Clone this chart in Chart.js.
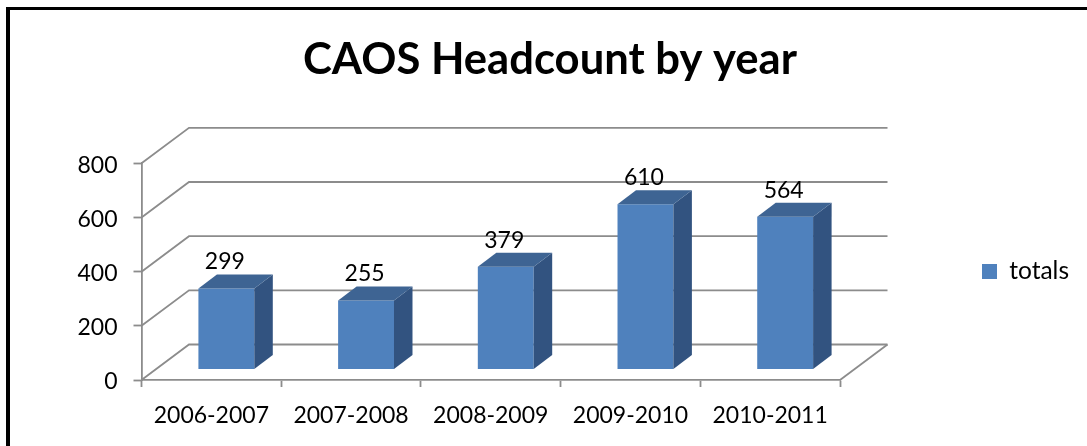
<!DOCTYPE html>
<html>
<head>
<meta charset="utf-8">
<title>CAOS Headcount by year</title>
<script src="https://cdn.jsdelivr.net/npm/chart.js@4/dist/chart.umd.min.js"></script>
<style>
  html, body { margin: 0; padding: 0; background: #fff; overflow: hidden; }
  #wrap { position: relative; width: 1087px; height: 446px; }
  #frame { position: absolute; left: 6px; top: 7px; right: -10px; bottom: -10px;
           border-left: 4px solid #000; border-top: 3px solid #000; }
  canvas { position: absolute; left: 0; top: 0; }
</style>
</head>
<body>
<div id="wrap">
  <canvas id="headcount" width="1087" height="446"></canvas>
  <div id="frame"></div>
</div>
<script>
const years = ['2006-2007', '2007-2008', '2008-2009', '2009-2010', '2010-2011'];
const totals = [299, 255, 379, 610, 564];
const yTicks = [0, 200, 400, 600, 800];

const FONT = 'Lato, Carlito, sans-serif';
const GREY = '#8c8c8c';
const FRONT = '#4f81bd';
const SIDE = '#325380';
const TOP = '#3e6493';

// depth of the box behind the axes, and of each bar inside it
const WALL_DX = 47.5, WALL_DY = -35.5;
const BAR_SHIFT_X = 15, BAR_SHIFT_Y = -10.5;
const BAR_DX = 18.5, BAR_DY = -14;

// back wall, floor and the slanted left side of the grid
const wallPlugin = {
  id: 'wall',
  afterLayout(chart) {
    // keep the legend level with the middle of the plot, off to the right
    const legend = chart.legend;
    legend.top += 36;
    legend.bottom += 36;
    legend.left += 13;
    legend.right += 13;
  },
  beforeDatasetsDraw(chart) {
    const { ctx, chartArea: a, scales: { y } } = chart;
    ctx.save();
    ctx.strokeStyle = GREY;
    ctx.lineWidth = 1.8;
    yTicks.forEach(v => {
      const py = y.getPixelForValue(v);
      ctx.beginPath();
      ctx.moveTo(a.left, py);
      ctx.lineTo(a.left + WALL_DX, py + WALL_DY);
      ctx.lineTo(a.right + WALL_DX, py + WALL_DY);
      ctx.stroke();
    });
    ctx.beginPath();
    ctx.moveTo(a.right, a.bottom);
    ctx.lineTo(a.right + WALL_DX, a.bottom + WALL_DY);
    ctx.stroke();
    ctx.restore();
  }
};

// the library draws the front faces, pushed back into the box;
// side and top faces plus the value labels are added afterwards
const boxPlugin = {
  id: 'box3d',
  beforeDatasetDraw(chart) {
    chart.ctx.save();
    chart.ctx.translate(BAR_SHIFT_X, BAR_SHIFT_Y);
  },
  afterDatasetDraw(chart, args) {
    const ctx = chart.ctx;
    args.meta.data.forEach(bar => {
      const l = bar.x - bar.width / 2, r = bar.x + bar.width / 2;
      ctx.fillStyle = SIDE;
      ctx.beginPath();
      ctx.moveTo(r, bar.y);
      ctx.lineTo(r + BAR_DX, bar.y + BAR_DY);
      ctx.lineTo(r + BAR_DX, bar.base + BAR_DY);
      ctx.lineTo(r, bar.base);
      ctx.closePath();
      ctx.fill();
      ctx.fillStyle = TOP;
      ctx.beginPath();
      ctx.moveTo(l, bar.y);
      ctx.lineTo(l + BAR_DX, bar.y + BAR_DY);
      ctx.lineTo(r + BAR_DX, bar.y + BAR_DY);
      ctx.lineTo(r, bar.y);
      ctx.closePath();
      ctx.fill();
    });
    ctx.restore();
    ctx.save();
    ctx.fillStyle = '#000';
    ctx.font = '23px ' + FONT;
    ctx.textAlign = 'center';
    ctx.textBaseline = 'middle';
    args.meta.data.forEach((bar, i) => {
      ctx.fillText(String(totals[i]), bar.x + BAR_SHIFT_X - 1.5, bar.y + BAR_SHIFT_Y - 26.5);
    });
    ctx.restore();
  }
};

new Chart(document.getElementById('headcount'), {
  type: 'bar',
  data: {
    labels: years,
    datasets: [{
      label: 'totals',
      data: totals,
      backgroundColor: FRONT,
      barPercentage: 1,
      categoryPercentage: 0.4
    }]
  },
  options: {
    responsive: false,
    animation: false,
    layout: { padding: { left: 34, right: 21, top: 25, bottom: 0 } },
    scales: {
      x: {
        afterFit: s => { s.height = 66; },
        grid: { drawOnChartArea: false, tickLength: 7, tickColor: GREY, tickWidth: 1.8 },
        border: { color: GREY, width: 1.8 },
        ticks: { color: '#000', font: { family: FONT, size: 23 }, padding: 15, maxRotation: 0 }
      },
      y: {
        min: 0,
        max: 800,
        afterFit: s => { s.width = 107.5; },
        afterBuildTicks: s => { s.ticks = yTicks.map(value => ({ value })); },
        grid: { drawOnChartArea: false, tickLength: 8, tickColor: GREY, tickWidth: 1.8 },
        border: { color: GREY, width: 1.8 },
        ticks: { color: '#000', font: { family: FONT, size: 23 }, padding: 16, labelOffset: 2 }
      }
    },
    plugins: {
      title: {
        display: true,
        text: 'CAOS Headcount by year',
        color: '#000',
        font: { family: FONT, size: 43.6, weight: 'bold' },
        padding: { top: 9, bottom: 77 }
      },
      legend: {
        position: 'right',
        labels: { color: '#000', font: { family: FONT, size: 24.5 }, boxWidth: 15, boxHeight: 15, padding: 129 }
      },
      tooltip: { enabled: false }
    }
  },
  plugins: [wallPlugin, boxPlugin]
});
</script>
</body>
</html>
